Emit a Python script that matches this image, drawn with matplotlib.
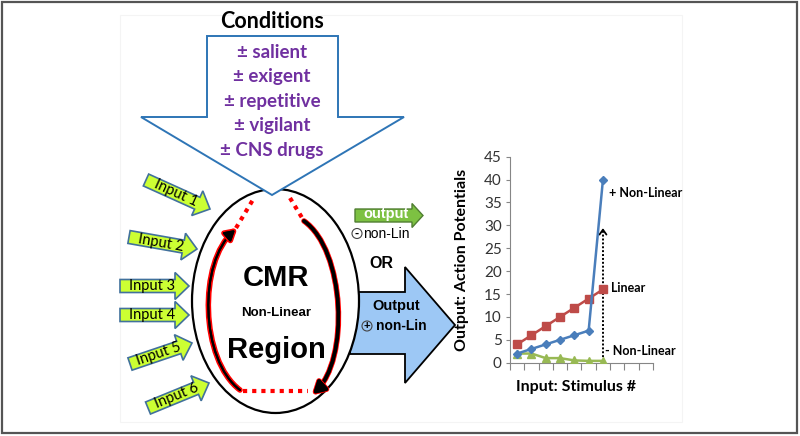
import numpy as np
import matplotlib
matplotlib.use("Agg")
import matplotlib.pyplot as plt
from matplotlib.patches import Polygon, Ellipse, Circle, FancyArrowPatch, Rectangle
from matplotlib.path import Path
import matplotlib.patheffects as pe

# ---------------- data ----------------
n_categories = 10
stimulus = [1, 2, 3, 4, 5, 6, 7]
pos_nonlinear = [2, 3, 4, 5, 6, 7, 40]
linear = [4, 6, 8, 10, 12, 14, 16]
neg_nonlinear = [2, 2, 1, 1, 0.5, 0.4, 0.4]
y_ticks = [0, 5, 10, 15, 20, 25, 30, 35, 40, 45]
series_labels = ["+ Non-Linear", "Linear", "- Non-Linear"]
arrow_top = 30
conditions = ["salient", "exigent", "repetitive", "vigilant", "CNS drugs"]
inputs = ["Input 1", "Input 2", "Input 3", "Input 4", "Input 5", "Input 6"]

CAL = ["Lato", "DejaVu Sans"]
ARI = ["Liberation Sans", "DejaVu Sans"]

fig = plt.figure(figsize=(8, 4.36), dpi=100)
ax = fig.add_axes([0, 0, 1, 1])
ax.set_xlim(0, 800)
ax.set_ylim(436, 0)
ax.axis("off")

# outer frame and faint inner frame
ax.add_patch(Rectangle((2, 2), 795, 431, fill=False, ec="#555555", lw=1.6, zorder=1))
ax.add_patch(Rectangle((120, 15), 562, 407, fill=False, ec="#f4f4f4", lw=0.8, zorder=1))


def block_arrow(tail, tip, body_w, head_w, head_len):
    tail = np.array(tail, float)
    tip = np.array(tip, float)
    d = tip - tail
    L = np.hypot(*d)
    u = d / L
    n = np.array([-u[1], u[0]])
    b = tip - u * head_len
    return [tail + n * body_w / 2, b + n * body_w / 2, b + n * head_w / 2, tip,
            b - n * head_w / 2, b - n * body_w / 2, tail - n * body_w / 2]


# big blue output arrow (under ellipse)
big = [(350, 292), (405, 292), (405, 267), (455, 325), (405, 383), (405, 354), (350, 354)]
ax.add_patch(Polygon(big, closed=True, fc="#9DC8F5", ec="black", lw=1.3, zorder=2))

# ellipse
ax.add_patch(Ellipse((275.5, 301), 167, 224, fc="white", ec="black", lw=1.6, zorder=3))

# conditions arrow
cond = [(207, 36), (338, 36), (338, 117), (404, 117), (272, 195), (141, 117), (207, 117)]
ax.add_patch(Polygon(cond, closed=True, fc="white", ec="#2E75B6", lw=1.4, zorder=4))
ax.text(272, 22, "Conditions", ha="center", va="center", fontsize=15.5,
        fontweight="bold", family=CAL, zorder=6)
for i, c in enumerate(conditions):
    ax.text(272, 52 + i * 24.5, "\u00b1 " + c, ha="center", va="center", fontsize=13.5,
            fontweight="bold", color="#7030A0", family=CAL, zorder=6)

# input arrows
input_geom = [((146, 180), (210, 209)), ((129, 237), (197, 249)), ((120, 286), (189, 286)),
              ((120, 315), (189, 315)), ((130, 364), (192, 343)), ((148, 408), (209, 383))]
for lab, (tail, tip) in zip(inputs, input_geom):
    pts = block_arrow(tail, tip, 13, 27, 14)
    ax.add_patch(Polygon(pts, closed=True, fc="#CCFF33", ec="#41719C", lw=1.2, zorder=4))
    dx = tip[0] - tail[0]
    dy = tip[1] - tail[1]
    ang = np.degrees(np.arctan2(-dy, dx))
    cx = tail[0] + 0.47 * dx
    cy = tail[1] + 0.47 * dy
    ax.text(cx, cy, lab, rotation=ang, rotation_mode="anchor", ha="center", va="center",
            fontsize=10.5, family=CAL, zorder=6)

# inner curved arrows
stroke = [pe.withStroke(linewidth=4, foreground="red")]
lp = Path([(240, 390), (200, 360), (198, 262), (235, 230)],
          [Path.MOVETO, Path.CURVE4, Path.CURVE4, Path.CURVE4])
a1 = FancyArrowPatch(path=lp, arrowstyle="-|>,head_length=6,head_width=3.5",
                     color="black", lw=1.5, zorder=5)
a1.set_path_effects(stroke + [pe.Normal()])
ax.add_patch(a1)
rp = Path([(304, 221), (345, 250), (350, 360), (313, 394)],
          [Path.MOVETO, Path.CURVE4, Path.CURVE4, Path.CURVE4])
a2 = FancyArrowPatch(path=rp, arrowstyle="-|>,head_length=7,head_width=4",
                     color="black", lw=2.5, zorder=5)
a2.set_path_effects(stroke + [pe.Normal()])
ax.add_patch(a2)
ax.plot([236, 254], [228, 198], color="red", lw=3, ls=(0, (1, 1.2)), solid_capstyle="butt", zorder=5)
ax.plot([290, 304], [198, 221], color="red", lw=3, ls=(0, (1, 1.2)), solid_capstyle="butt", zorder=5)
ax.plot([243, 308], [391, 391], color="red", lw=3, ls=(0, (1, 1.2)), solid_capstyle="butt", zorder=5)

ax.text(276, 278, "CMR", ha="center", va="center", fontsize=21, fontweight="bold", family=ARI, zorder=6)
ax.text(276, 313, "Non-Linear", ha="center", va="center", fontsize=9.5, fontweight="bold", family=ARI, zorder=6)
ax.text(276, 350, "Region", ha="center", va="center", fontsize=21, fontweight="bold", family=ARI, zorder=6)

# small output arrow
ax.add_patch(Polygon(block_arrow((355, 215.5), (423, 215.5), 13, 24, 11), closed=True,
                     fc="#7DC142", ec="#507E32", lw=1.0, zorder=4))
ax.text(386, 214, "output", ha="center", va="center", fontsize=10.5, color="white",
        fontweight="bold", family=ARI, zorder=6)
ax.add_patch(Circle((357, 233.5), 5, fc="white", ec="#444444", lw=0.8, zorder=6))
ax.text(357, 233.5, "-", ha="center", va="center", fontsize=9, fontweight="bold", family=ARI, zorder=7)
ax.text(363, 233.5, "non-Lin", ha="left", va="center", fontsize=10, family=ARI, zorder=6)

ax.text(381, 263, "OR", ha="center", va="center", fontsize=11.5, fontweight="bold", family=ARI, zorder=6)
ax.text(396, 306, "Output", ha="center", va="center", fontsize=10.5, fontweight="bold", family=ARI, zorder=6)
ax.add_patch(Circle((367, 326), 5, fc="none", ec="#444444", lw=0.8, zorder=6))
ax.text(367, 326, "+", ha="center", va="center", fontsize=8, fontweight="bold", family=ARI, zorder=7)
ax.text(376, 326, "non-Lin", ha="left", va="center", fontsize=10, fontweight="bold", family=ARI, zorder=6)

# ---------------- chart ----------------
cax = fig.add_axes([510 / 800, (436 - 362.7) / 436, 143 / 800, 206 / 436])
cax.set_facecolor("none")
xs = [s - 0.5 for s in stimulus]
cax.plot(xs, pos_nonlinear, color="#4A7EBB", lw=1.8, marker="D", ms=4, zorder=4)
cax.plot(xs, linear, color="#BE4B48", lw=1.8, marker="s", ms=6, zorder=3)
cax.plot(xs, neg_nonlinear, color="#98B954", lw=1.8, marker="^", ms=6, zorder=3)
cax.set_xlim(0, n_categories)
cax.set_ylim(0, 45)
cax.set_yticks(y_ticks)
cax.set_xticks(range(n_categories + 1))
cax.set_xticklabels([])
for s in ["top", "right"]:
    cax.spines[s].set_visible(False)
for s in ["left", "bottom"]:
    cax.spines[s].set_color("#868686")
cax.tick_params(axis="x", length=5, color="#868686", direction="out")
cax.tick_params(axis="y", length=3, color="#868686", direction="out", labelsize=11,
                labelcolor="#333333", pad=3)
for t in cax.get_yticklabels():
    t.set_family(CAL)
cax.set_ylabel("Output: Action Potentials", fontsize=11.5, fontweight="bold", family=CAL)
cax.yaxis.set_label_coords(-0.285, 0.5)
cax.set_xlabel("Input: Stimulus #", fontsize=11.5, fontweight="bold", family=CAL)
cax.xaxis.set_label_coords(0.46, -0.085)

# dotted arrow
cax.plot([xs[-1], xs[-1]], [neg_nonlinear[-1], arrow_top - 1], color="black", lw=1.4,
         ls=(0, (1, 1)), zorder=2)
cax.annotate("", xy=(xs[-1], arrow_top), xytext=(xs[-1], arrow_top - 2),
             arrowprops=dict(arrowstyle="->,head_length=0.35,head_width=0.25", color="black", lw=1.3))

offsets = [(6, -13), (8, 1.5), (2, 10)]
for lab, ys, off in zip(series_labels, [pos_nonlinear, linear, neg_nonlinear], offsets):
    cax.annotate(lab, xy=(xs[-1], ys[-1]), xytext=off, textcoords="offset pixels",
                 ha="left", va="center", fontsize=9, fontweight="bold", family=CAL,
                 annotation_clip=False)

fig.savefig("out.png", dpi=100)
